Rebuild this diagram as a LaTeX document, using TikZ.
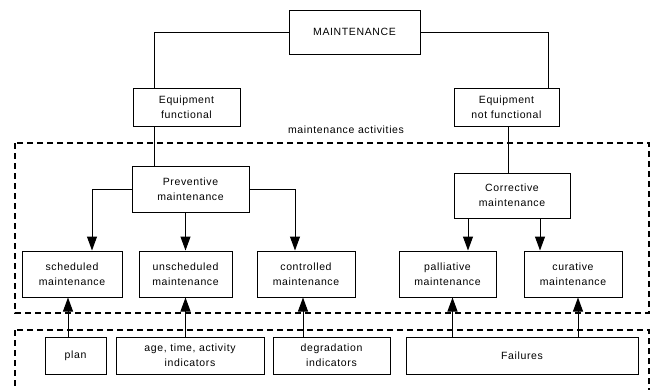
\documentclass[tikz,border=0pt]{standalone}
\usepackage{fontspec}
\setmainfont{Liberation Sans}[LetterSpace=6]
\usetikzlibrary{arrows.meta,positioning,calc}
\tikzset{box/.style={draw,line width=1pt,align=center,inner sep=2pt,font=\fontsize{10.5}{15}\selectfont},
  row/.style={box,minimum height=46},
  src/.style={box,minimum height=37},
  wire/.style={line width=1pt},
  arr/.style={line width=1pt,-{Triangle[length=14pt,width=10pt]}},
  zone/.style={line width=1.3pt,dash pattern=on 6pt off 4pt}}

\begin{document}
\begin{tikzpicture}[x=1pt,y=-1pt]
\useasboundingbox (0,0) rectangle (651,389);
\clip (0,0) rectangle (651,389);
\draw[zone] (15,143) rectangle (649,313);
\draw[zone] (15,330) rectangle (649,400);
\node[box,minimum width=131,minimum height=44] (maint) at (354.5,32) {MAINTENANCE};
\node[box,minimum width=107,minimum height=38] (efun) at (186.5,107) {Equipment\\functional};
\node[box,minimum width=105,minimum height=38] (enf) at (506.5,107) {Equipment\\not functional};
\node[font=\fontsize{10.5}{15}\selectfont] (acts) at (346,130) {maintenance activities};
\node[box,minimum width=117,minimum height=46] (prev) at (190.5,189) {Preventive\\maintenance};
\node[box,minimum width=116,minimum height=45] (corr) at (512,195.5) {Corrective\\maintenance};
\node[row,minimum width=100] (sched) at (72,274) {scheduled\\maintenance};
\node[row,minimum width=93] (unsched) at (185.5,274) {unscheduled\\maintenance};
\node[row,minimum width=98] (contr) at (306,274) {controlled\\maintenance};
\node[row,minimum width=97] (pall) at (447.5,274) {palliative\\maintenance};
\node[row,minimum width=98] (cur) at (573,274) {curative\\maintenance};
\node[src,minimum width=61] (plan) at (75.5,355.5) {plan};
\node[src,minimum width=148] (age) at (190,355.5) {age, time, activity\\indicators};
\node[src,minimum width=117] (degr) at (331.5,355.5) {degradation\\indicators};
\node[src,minimum width=232] (fail) at (522,355.5) {Failures};
\coordinate (lx) at (154,0);
\coordinate (rx) at (548,0);
\draw[wire] (maint.west) -| (efun.north -| lx);
\draw[wire] (maint.east) -| (enf.north -| rx);
\draw[wire] (efun.south -| lx) -- (prev.north -| lx);
\draw[wire] ([xshift=1.5]enf.south) -- ([xshift=1.5]enf.south |- corr.north);
\draw[arr] (prev.west) -| ([xshift=20]sched.north);
\draw[arr] (prev.east) -| ([xshift=-11]contr.north);
\draw[arr] (prev.south -| unsched.north) -- (unsched.north);
\draw[arr] ([xshift=-44]corr.south) -- ([xshift=-44]corr.south |- pall.north);
\draw[arr] ([xshift=28]corr.south) -- ([xshift=28]corr.south |- cur.north);
\draw[arr] ([xshift=-4]sched.south |- plan.north) -- ([xshift=-4]sched.south);
\draw[arr] (age.north -| unsched.south) -- (unsched.south);
\draw[arr] ([xshift=-3]contr.south |- degr.north) -- ([xshift=-3]contr.south);
\draw[arr] ([xshift=5]pall.south |- fail.north) -- ([xshift=5]pall.south);
\draw[arr] ([xshift=5]cur.south |- fail.north) -- ([xshift=5]cur.south);
\end{tikzpicture}
\end{document}
